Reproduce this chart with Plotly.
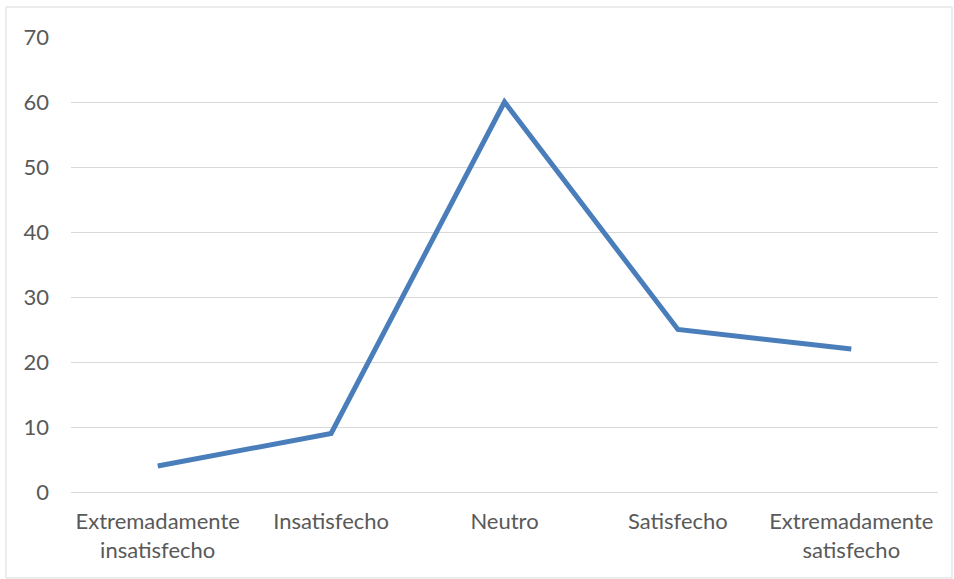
import plotly.graph_objects as go

categories = ["Extremadamente<br>insatisfecho", "Insatisfecho", "Neutro",
              "Satisfecho", "Extremadamente<br>satisfecho"]
values = [4, 9, 60, 25, 22]
y_ticks = [0, 10, 20, 30, 40, 50, 60, 70]

W, H = 954, 579
L, R, T, B = 71, 938, 37, 492

fig = go.Figure(go.Scatter(
    x=categories, y=values, mode="lines",
    line=dict(color="#4A7EBB", width=5),
    hoverinfo="skip",
))

def px_x(p):
    return (p - L) / (R - L)

def px_y(p):
    return (B - p) / (B - T)

# light chart-area frame
fig.add_shape(type="rect", xref="paper", yref="paper",
              x0=px_x(6), x1=px_x(952), y0=px_y(578), y1=px_y(7),
              line=dict(color="#D9D9D9", width=1), layer="below")

fig.update_layout(
    width=W, height=H,
    margin=dict(l=L, r=W - R, t=T, b=H - B),
    paper_bgcolor="white", plot_bgcolor="white",
    font=dict(family="Lato, Carlito, Calibri, sans-serif", size=22, color="#595959"),
    showlegend=False,
    xaxis=dict(
        type="category", range=[-0.5, 4.5], showgrid=False, zeroline=False,
        showline=False, ticks="", ticklabelstandoff=14,
        tickfont=dict(size=22, color="#595959"),
    ),
    yaxis=dict(
        range=[0, 70], tickvals=y_ticks, showgrid=True, gridcolor="#D9D9D9",
        gridwidth=1, zeroline=True, zerolinecolor="#D9D9D9", zerolinewidth=1,
        showline=False, ticks="", ticklabelstandoff=21,
        tickfont=dict(size=22, color="#595959"),
    ),
)

fig.write_html("out.html")
